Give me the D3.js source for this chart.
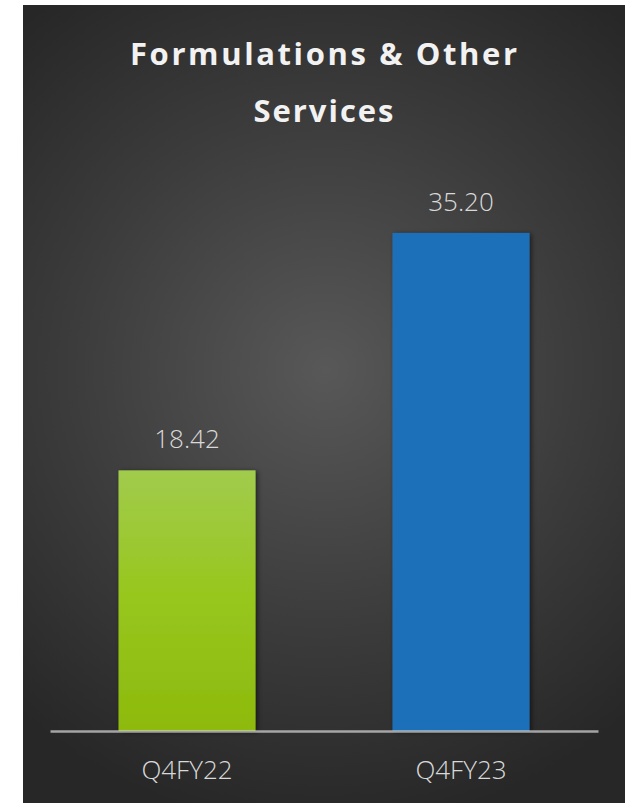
<!DOCTYPE html>
<html>
<head>
<meta charset="utf-8">
<script src="https://cdn.jsdelivr.net/npm/d3@7"></script>
<style>
  html, body { margin: 0; padding: 0; background: #ffffff; }
  svg { display: block; }
</style>
</head>
<body>
<svg id="chart" width="625" height="803"></svg>
<script>
// Revenue by quarter
const categories = ["Q4FY22", "Q4FY23"];
const values = [18.42, 35.20];
const valueLabels = ["18.42", "35.20"];
const titleLines = ["Formulations & Other", "Services"];

const W = 625, H = 803;
const svg = d3.select("#chart");
const defs = svg.append("defs");

// Dark panel with a soft radial glow
const bgGrad = defs.append("radialGradient")
  .attr("id", "bgGrad")
  .attr("gradientUnits", "userSpaceOnUse")
  .attr("cx", 325).attr("cy", 370).attr("r", 460);
bgGrad.append("stop").attr("offset", "0%").attr("stop-color", "#585858");
bgGrad.append("stop").attr("offset", "55%").attr("stop-color", "#3c3c3c");
bgGrad.append("stop").attr("offset", "100%").attr("stop-color", "#272727");

const greenGrad = defs.append("linearGradient")
  .attr("id", "greenGrad").attr("x1", 0).attr("y1", 0).attr("x2", 0).attr("y2", 1);
greenGrad.append("stop").attr("offset", "0%").attr("stop-color", "#a1cb4d");
greenGrad.append("stop").attr("offset", "45%").attr("stop-color", "#98c720");
greenGrad.append("stop").attr("offset", "100%").attr("stop-color", "#8dba0c");

const shadow = defs.append("filter").attr("id", "barShadow")
  .attr("x", "-10%").attr("y", "-5%").attr("width", "125%").attr("height", "115%");
shadow.append("feDropShadow")
  .attr("dx", 2).attr("dy", 1).attr("stdDeviation", 2.5)
  .attr("flood-color", "#000").attr("flood-opacity", 0.55);

svg.append("rect")
  .attr("x", 23).attr("y", 5).attr("width", W - 23).attr("height", H - 5)
  .attr("fill", "url(#bgGrad)");

const fontStack = "'Segoe UI', 'Open Sans', 'Noto Sans', sans-serif";

// Title
const title = svg.append("g").attr("font-family", fontStack)
  .attr("font-weight", 700).attr("font-size", 31).attr("fill", "#f2f2f2")
  .attr("text-anchor", "middle");
const titleWidths = [387, 140];
title.selectAll("text").data(titleLines).join("text")
  .attr("x", 323.5)
  .attr("y", (d, i) => 65 + i * 57)
  .attr("textLength", (d, i) => titleWidths[i])
  .attr("lengthAdjust", "spacing")
  .text(d => d);

// Scales
const x = d3.scaleBand().domain(categories).range([50, 598])
  .paddingInner(0.5).paddingOuter(0.25);
const y = d3.scaleLinear().domain([0, 40]).range([731, 165]);

const colors = ["url(#greenGrad)", "#1e70b9"];

svg.append("g").selectAll("rect").data(values).join("rect")
  .attr("x", (d, i) => x(categories[i]))
  .attr("y", d => y(d))
  .attr("width", x.bandwidth())
  .attr("height", d => y(0) - y(d))
  .attr("fill", (d, i) => colors[i])
  .attr("filter", "url(#barShadow)");

// Value labels
svg.append("g").selectAll("text").data(values).join("text")
  .attr("x", (d, i) => x(categories[i]) + x.bandwidth() / 2)
  .attr("y", d => y(d) - 22)
  .attr("text-anchor", "middle")
  .attr("font-family", fontStack)
  .attr("font-weight", 300)
  .attr("font-size", 26)
  .attr("fill", "#d9d9d9")
  .text((d, i) => valueLabels[i]);

// Category axis
const axis = svg.append("g")
  .attr("transform", `translate(0,${y(0)})`)
  .call(d3.axisBottom(x).tickSize(0).tickPadding(30));
axis.select(".domain").attr("stroke", "#d9d9d9").attr("stroke-opacity", 0.7).attr("stroke-width", 2.5);
axis.selectAll(".tick text")
  .attr("font-family", fontStack)
  .attr("font-weight", 300)
  .attr("font-size", 26)
  .attr("fill", "#d9d9d9");
</script>
</body>
</html>
